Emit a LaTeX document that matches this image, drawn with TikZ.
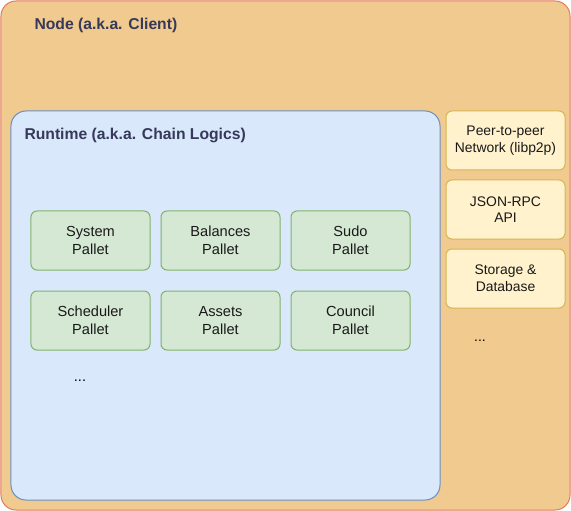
\documentclass[tikz,border=0pt]{standalone}
\usepackage{fontspec}
\setmainfont{Liberation Sans}
\usepackage{xcolor}
\usepackage{tikz}

\definecolor{clientfill}{HTML}{F0CA8E}
\definecolor{clientline}{HTML}{E47A60}
\definecolor{runtimefill}{HTML}{DAE8FC}
\definecolor{runtimeline}{HTML}{6C8EBF}
\definecolor{palletfill}{HTML}{D5E8D4}
\definecolor{palletline}{HTML}{82B366}
\definecolor{servicefill}{HTML}{FFF2CC}
\definecolor{serviceline}{HTML}{D6B656}
\definecolor{titletext}{HTML}{36395A}

\begin{document}
\begin{tikzpicture}[x=1bp,y=-1bp,line width=1bp,
    frame/.style={draw, rounded corners=15bp, inner sep=0pt},
    box/.style={draw, rounded corners=6bp, inner sep=0pt, align=center,
        text=black!90, minimum width=119bp, minimum height=59bp},
    pallet/.style={box, fill=palletfill, draw=palletline,
        font=\fontsize{14.6bp}{18bp}\selectfont},
    service/.style={box, fill=servicefill, draw=serviceline,
        font=\fontsize{13.9bp}{16.7bp}\selectfont},
    heading/.style={anchor=base west, inner sep=0pt, text=titletext,
        font=\fontsize{15.7bp}{18bp}\selectfont\bfseries}]

        \useasboundingbox (0,0) rectangle (571,511);

        % Draw frames
        \node[frame, fill=clientfill, draw=clientline,
            minimum width=569bp, minimum height=509bp] (client) at (285.5,255.5) {};
        \node[heading] (client-title) at (34,30) {Node (a.k.a. Client)};
        \node[frame, fill=runtimefill, draw=runtimeline,
            minimum width=429bp, minimum height=389bp] (runtime) at (225.5,305.5) {};
        \node[heading] (runtime-title) at (24,140) {Runtime (a.k.a. Chain Logics)};

        % Draw pallets
        \foreach \name [count=\i from 0] in {System,Balances,Sudo,Scheduler,Assets,Council} {
            \pgfmathtruncatemacro\row{\i/3}
            \pgfmathtruncatemacro\col{mod(\i,3)}
            \node[pallet] (pallet-\i) at ({90.5+130*\col},{240.5+80*\row}) {\name\\Pallet};
        }
        \node[anchor=base, font=\fontsize{14.6bp}{18bp}\selectfont] (pallet-more) at (80,381) {...};

        % Draw client services
        \node[service] (p2p) at (505.5,140.5) {Peer-to-peer\\Network (libp2p)};
        \node[service] (rpc) at (505.5,209.5) {JSON-RPC\\API};
        \node[service] (storage) at (505.5,278.5) {Storage \&\\Database};
        \node[anchor=base, font=\fontsize{13.9bp}{16.7bp}\selectfont] (service-more) at (480,341) {...};

    \end{tikzpicture}
\end{document}
